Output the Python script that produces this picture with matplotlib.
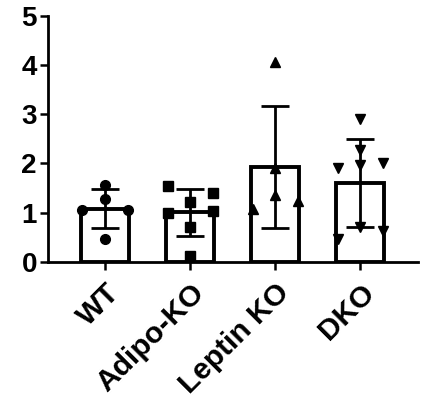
import matplotlib
matplotlib.use("Agg")
import matplotlib.pyplot as plt
import matplotlib.transforms as mtransforms
import numpy as np

categories = ["WT", "Adipo-KO", "Leptin KO", "DKO"]
wt_vals = [1.56, 1.28, 1.06, 1.06, 0.47]
wt_offsets = [0.0, 0.0, -0.27, 0.27, 0.0]
adipo_vals = [1.55, 1.41, 1.22, 0.99, 1.03, 0.72, 0.12]
adipo_offsets = [-0.26, 0.27, 0.0, -0.26, 0.27, 0.0, 0.0]
leptin_vals = [4.07, 1.90, 1.36, 1.08, 1.24]
leptin_offsets = [0.0, 0.0, 0.0, -0.26, 0.27]
dko_vals = [2.91, 2.27, 1.97, 1.90, 2.01, 0.71, 0.46, 0.63]
dko_offsets = [0.0, 0.0, 0.0, -0.26, 0.27, 0.0, -0.26, 0.27]
markers = ["o", "s", "^", "v"]
yticks = [0, 1, 2, 3, 4, 5]

groups = [wt_vals, adipo_vals, leptin_vals, dko_vals]
offsets = [wt_offsets, adipo_offsets, leptin_offsets, dko_offsets]

plt.rcParams['font.family'] = ['Liberation Sans', 'DejaVu Sans']
plt.rcParams['font.weight'] = 'bold'

fig = plt.figure(figsize=(4.25, 4.04), dpi=100)
ax = fig.add_axes([48/425, 1-262/404, 370/425, 246.3/404])

x = np.arange(len(categories))
means = [np.mean(g) for g in groups]
sds = [np.std(g, ddof=1) for g in groups]

ax.bar(x, means, width=0.57, facecolor='white', edgecolor='black', linewidth=2.8, zorder=1)
ax.errorbar(x, means, yerr=sds, fmt='none', ecolor='black', elinewidth=2.0,
            capsize=10, capthick=2.0, zorder=2)
for i, (g, o, m) in enumerate(zip(groups, offsets, markers)):
    ax.plot(np.array(o) + i, g, linestyle='none', marker=m, color='black',
            markersize=7, zorder=3, clip_on=False)

ax.set_xlim(-0.67, 3.68)
ax.set_ylim(0, 5)
ax.set_yticks(yticks)
ax.set_yticklabels([str(t) for t in yticks], fontsize=20, fontweight='bold')
ax.set_xticks(x)
ax.set_xticklabels(categories, fontsize=21.5, fontweight='bold', rotation=45,
                   ha='right', va='top', rotation_mode='anchor')
shift = mtransforms.ScaledTranslation(-6/100, -5/100, fig.dpi_scale_trans)
for lbl in ax.get_xticklabels():
    lbl.set_transform(lbl.get_transform() + shift)
for s in ['top', 'right']:
    ax.spines[s].set_visible(False)
for s in ['left', 'bottom']:
    ax.spines[s].set_linewidth(2.0)
ax.tick_params(axis='both', width=1.8, length=6, color='black')
ax.tick_params(axis='y', pad=2)
ax.tick_params(axis='x', pad=6)

fig.savefig("out.png", dpi=100)
